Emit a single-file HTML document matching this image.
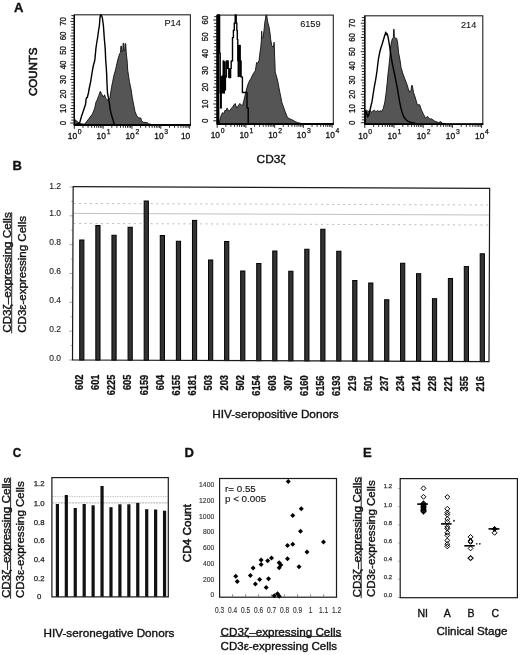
<!DOCTYPE html><html><head><meta charset="utf-8"><style>html,body{margin:0;padding:0;background:#fff;overflow:hidden;}svg{display:block;filter:grayscale(1);}text{font-family:"Liberation Sans", sans-serif;}</style></head><body>
<svg width="520" height="655" viewBox="0 0 520 655">
<rect x="0" y="0" width="520" height="655" fill="#fff"/>
<text transform="translate(14.1,12.1)" font-size="13" font-weight="bold" text-anchor="start" fill="#111" stroke="#111" stroke-width="0.35">A</text>
<text transform="translate(37.4,71.75) rotate(-90)" font-size="11.6" font-weight="normal" text-anchor="middle" fill="#111" stroke="#111" stroke-width="0.6" textLength="48.6" lengthAdjust="spacingAndGlyphs">COUNTS</text>
<text transform="translate(256.6,162.5)" font-size="10.3" font-weight="normal" text-anchor="start" fill="#111" stroke="#111" stroke-width="0.35" textLength="29.0" lengthAdjust="spacingAndGlyphs">CD3ζ</text>
<rect x="74.3" y="14.8" width="116.10000000000001" height="110.2" fill="none" stroke="#222" stroke-width="1.1"/>
<path d="M74.60,125.00 L75.30,119.80 L76.50,120.80 L78.00,122.30 L80.00,123.60 L84.50,124.20 L85.50,123.00 L89.00,118.50 L92.50,113.80 L94.80,108.00 L95.90,102.30 L97.10,100.00 L98.80,95.40 L100.30,91.30 L101.70,94.20 L103.40,97.10 L104.60,94.80 L105.70,98.30 L107.50,100.00 L108.60,98.80 L109.80,98.80 L111.50,87.30 L112.70,81.50 L113.80,75.80 L115.50,70.00 L117.80,59.60 L119.70,53.50 L120.50,52.50 L120.90,46.10 L121.40,46.10 L121.80,52.00 L122.80,51.00 L123.10,43.30 L123.70,43.30 L124.10,51.00 L124.90,50.00 L125.20,43.60 L125.70,43.60 L126.20,52.00 L126.60,56.00 L127.10,60.20 L127.70,70.00 L129.40,81.50 L131.20,90.00 L132.30,97.70 L133.80,105.40 L135.00,111.50 L136.90,116.20 L138.80,117.70 L140.30,118.20 L140.80,117.80 L141.50,120.80 L143.50,122.30 L147.30,122.70 L148.50,123.80 L152.00,124.60 L156.00,125.00 Z" fill="#555" stroke="#111" stroke-width="0.9" stroke-linejoin="round"/>
<path d="M76.50,123.80 L78.50,123.60 L79.80,122.40 L80.60,119.50 L81.50,116.20 L83.00,112.00 L84.50,107.50 L85.50,104.60 L86.10,99.00 L86.60,97.70 L87.30,97.50 L88.40,93.00 L89.50,87.00 L90.70,81.50 L91.60,75.50 L92.50,70.00 L93.50,65.00 L94.80,60.20 L95.90,48.60 L96.70,43.00 L97.70,37.00 L98.50,31.00 L99.40,25.50 L100.00,17.50 L100.60,14.80 L101.50,15.50 L102.30,17.50 L103.40,25.50 L104.20,37.00 L105.20,48.60 L105.70,60.20 L106.30,68.00 L106.70,75.00 L106.90,81.50 L107.50,93.00 L108.60,98.80 L109.50,104.00 L110.30,110.40 L111.80,116.00 L113.20,120.80 L114.40,124.50" fill="none" stroke="#000" stroke-width="1.4" stroke-linejoin="round"/>
<line x1="73.8" y1="125.0" x2="190.9" y2="125.0" stroke="#000" stroke-width="1.8"/>
<line x1="74.3" y1="14.8" x2="74.3" y2="125.0" stroke="#000" stroke-width="1.3"/>
<line x1="70.3" y1="123.00" x2="74.3" y2="123.00" stroke="#111" stroke-width="0.9"/>
<line x1="71.3" y1="120.10" x2="74.3" y2="120.10" stroke="#111" stroke-width="0.9"/>
<line x1="71.3" y1="117.20" x2="74.3" y2="117.20" stroke="#111" stroke-width="0.9"/>
<line x1="71.3" y1="114.29" x2="74.3" y2="114.29" stroke="#111" stroke-width="0.9"/>
<line x1="71.3" y1="111.39" x2="74.3" y2="111.39" stroke="#111" stroke-width="0.9"/>
<line x1="70.3" y1="108.49" x2="74.3" y2="108.49" stroke="#111" stroke-width="0.9"/>
<line x1="71.3" y1="105.59" x2="74.3" y2="105.59" stroke="#111" stroke-width="0.9"/>
<line x1="71.3" y1="102.69" x2="74.3" y2="102.69" stroke="#111" stroke-width="0.9"/>
<line x1="71.3" y1="99.78" x2="74.3" y2="99.78" stroke="#111" stroke-width="0.9"/>
<line x1="71.3" y1="96.88" x2="74.3" y2="96.88" stroke="#111" stroke-width="0.9"/>
<line x1="70.3" y1="93.98" x2="74.3" y2="93.98" stroke="#111" stroke-width="0.9"/>
<line x1="71.3" y1="91.08" x2="74.3" y2="91.08" stroke="#111" stroke-width="0.9"/>
<line x1="71.3" y1="88.18" x2="74.3" y2="88.18" stroke="#111" stroke-width="0.9"/>
<line x1="71.3" y1="85.27" x2="74.3" y2="85.27" stroke="#111" stroke-width="0.9"/>
<line x1="71.3" y1="82.37" x2="74.3" y2="82.37" stroke="#111" stroke-width="0.9"/>
<line x1="70.3" y1="79.47" x2="74.3" y2="79.47" stroke="#111" stroke-width="0.9"/>
<line x1="71.3" y1="76.57" x2="74.3" y2="76.57" stroke="#111" stroke-width="0.9"/>
<line x1="71.3" y1="73.67" x2="74.3" y2="73.67" stroke="#111" stroke-width="0.9"/>
<line x1="71.3" y1="70.76" x2="74.3" y2="70.76" stroke="#111" stroke-width="0.9"/>
<line x1="71.3" y1="67.86" x2="74.3" y2="67.86" stroke="#111" stroke-width="0.9"/>
<line x1="70.3" y1="64.96" x2="74.3" y2="64.96" stroke="#111" stroke-width="0.9"/>
<line x1="71.3" y1="62.06" x2="74.3" y2="62.06" stroke="#111" stroke-width="0.9"/>
<line x1="71.3" y1="59.16" x2="74.3" y2="59.16" stroke="#111" stroke-width="0.9"/>
<line x1="71.3" y1="56.25" x2="74.3" y2="56.25" stroke="#111" stroke-width="0.9"/>
<line x1="71.3" y1="53.35" x2="74.3" y2="53.35" stroke="#111" stroke-width="0.9"/>
<line x1="70.3" y1="50.45" x2="74.3" y2="50.45" stroke="#111" stroke-width="0.9"/>
<line x1="71.3" y1="47.55" x2="74.3" y2="47.55" stroke="#111" stroke-width="0.9"/>
<line x1="71.3" y1="44.65" x2="74.3" y2="44.65" stroke="#111" stroke-width="0.9"/>
<line x1="71.3" y1="41.74" x2="74.3" y2="41.74" stroke="#111" stroke-width="0.9"/>
<line x1="71.3" y1="38.84" x2="74.3" y2="38.84" stroke="#111" stroke-width="0.9"/>
<line x1="70.3" y1="35.94" x2="74.3" y2="35.94" stroke="#111" stroke-width="0.9"/>
<line x1="71.3" y1="33.04" x2="74.3" y2="33.04" stroke="#111" stroke-width="0.9"/>
<line x1="71.3" y1="30.14" x2="74.3" y2="30.14" stroke="#111" stroke-width="0.9"/>
<line x1="71.3" y1="27.23" x2="74.3" y2="27.23" stroke="#111" stroke-width="0.9"/>
<line x1="71.3" y1="24.33" x2="74.3" y2="24.33" stroke="#111" stroke-width="0.9"/>
<line x1="70.3" y1="21.43" x2="74.3" y2="21.43" stroke="#111" stroke-width="0.9"/>
<line x1="71.3" y1="18.53" x2="74.3" y2="18.53" stroke="#111" stroke-width="0.9"/>
<line x1="71.3" y1="15.63" x2="74.3" y2="15.63" stroke="#111" stroke-width="0.9"/>
<text transform="translate(65.8,123.0) rotate(-90) scale(0.9,1)" font-size="8.8" font-weight="normal" text-anchor="middle" fill="#111" stroke="#111" stroke-width="0.3">0</text>
<text transform="translate(65.8,108.49) rotate(-90) scale(0.9,1)" font-size="8.8" font-weight="normal" text-anchor="middle" fill="#111" stroke="#111" stroke-width="0.3">10</text>
<text transform="translate(65.8,93.98) rotate(-90) scale(0.9,1)" font-size="8.8" font-weight="normal" text-anchor="middle" fill="#111" stroke="#111" stroke-width="0.3">20</text>
<text transform="translate(65.8,79.47) rotate(-90) scale(0.9,1)" font-size="8.8" font-weight="normal" text-anchor="middle" fill="#111" stroke="#111" stroke-width="0.3">30</text>
<text transform="translate(65.8,64.96000000000001) rotate(-90) scale(0.9,1)" font-size="8.8" font-weight="normal" text-anchor="middle" fill="#111" stroke="#111" stroke-width="0.3">40</text>
<text transform="translate(65.8,50.45) rotate(-90) scale(0.9,1)" font-size="8.8" font-weight="normal" text-anchor="middle" fill="#111" stroke="#111" stroke-width="0.3">50</text>
<text transform="translate(65.8,35.94) rotate(-90) scale(0.9,1)" font-size="8.8" font-weight="normal" text-anchor="middle" fill="#111" stroke="#111" stroke-width="0.3">60</text>
<text transform="translate(65.8,21.430000000000007) rotate(-90) scale(0.9,1)" font-size="8.8" font-weight="normal" text-anchor="middle" fill="#111" stroke="#111" stroke-width="0.3">70</text>
<line x1="74.30" y1="125.0" x2="74.30" y2="128.8" stroke="#111" stroke-width="0.9"/>
<line x1="82.98" y1="125.0" x2="82.98" y2="127.8" stroke="#111" stroke-width="0.9"/>
<line x1="88.06" y1="125.0" x2="88.06" y2="127.8" stroke="#111" stroke-width="0.9"/>
<line x1="91.66" y1="125.0" x2="91.66" y2="127.8" stroke="#111" stroke-width="0.9"/>
<line x1="94.45" y1="125.0" x2="94.45" y2="127.8" stroke="#111" stroke-width="0.9"/>
<line x1="96.73" y1="125.0" x2="96.73" y2="127.8" stroke="#111" stroke-width="0.9"/>
<line x1="98.66" y1="125.0" x2="98.66" y2="127.8" stroke="#111" stroke-width="0.9"/>
<line x1="100.34" y1="125.0" x2="100.34" y2="127.8" stroke="#111" stroke-width="0.9"/>
<line x1="101.81" y1="125.0" x2="101.81" y2="127.8" stroke="#111" stroke-width="0.9"/>
<line x1="103.13" y1="125.0" x2="103.13" y2="128.8" stroke="#111" stroke-width="0.9"/>
<line x1="111.81" y1="125.0" x2="111.81" y2="127.8" stroke="#111" stroke-width="0.9"/>
<line x1="116.89" y1="125.0" x2="116.89" y2="127.8" stroke="#111" stroke-width="0.9"/>
<line x1="120.49" y1="125.0" x2="120.49" y2="127.8" stroke="#111" stroke-width="0.9"/>
<line x1="123.28" y1="125.0" x2="123.28" y2="127.8" stroke="#111" stroke-width="0.9"/>
<line x1="125.56" y1="125.0" x2="125.56" y2="127.8" stroke="#111" stroke-width="0.9"/>
<line x1="127.49" y1="125.0" x2="127.49" y2="127.8" stroke="#111" stroke-width="0.9"/>
<line x1="129.17" y1="125.0" x2="129.17" y2="127.8" stroke="#111" stroke-width="0.9"/>
<line x1="130.64" y1="125.0" x2="130.64" y2="127.8" stroke="#111" stroke-width="0.9"/>
<line x1="131.96" y1="125.0" x2="131.96" y2="128.8" stroke="#111" stroke-width="0.9"/>
<line x1="140.64" y1="125.0" x2="140.64" y2="127.8" stroke="#111" stroke-width="0.9"/>
<line x1="145.72" y1="125.0" x2="145.72" y2="127.8" stroke="#111" stroke-width="0.9"/>
<line x1="149.32" y1="125.0" x2="149.32" y2="127.8" stroke="#111" stroke-width="0.9"/>
<line x1="152.11" y1="125.0" x2="152.11" y2="127.8" stroke="#111" stroke-width="0.9"/>
<line x1="154.39" y1="125.0" x2="154.39" y2="127.8" stroke="#111" stroke-width="0.9"/>
<line x1="156.32" y1="125.0" x2="156.32" y2="127.8" stroke="#111" stroke-width="0.9"/>
<line x1="158.00" y1="125.0" x2="158.00" y2="127.8" stroke="#111" stroke-width="0.9"/>
<line x1="159.47" y1="125.0" x2="159.47" y2="127.8" stroke="#111" stroke-width="0.9"/>
<line x1="160.79" y1="125.0" x2="160.79" y2="128.8" stroke="#111" stroke-width="0.9"/>
<line x1="169.47" y1="125.0" x2="169.47" y2="127.8" stroke="#111" stroke-width="0.9"/>
<line x1="174.55" y1="125.0" x2="174.55" y2="127.8" stroke="#111" stroke-width="0.9"/>
<line x1="178.15" y1="125.0" x2="178.15" y2="127.8" stroke="#111" stroke-width="0.9"/>
<line x1="180.94" y1="125.0" x2="180.94" y2="127.8" stroke="#111" stroke-width="0.9"/>
<line x1="183.22" y1="125.0" x2="183.22" y2="127.8" stroke="#111" stroke-width="0.9"/>
<line x1="185.15" y1="125.0" x2="185.15" y2="127.8" stroke="#111" stroke-width="0.9"/>
<line x1="186.83" y1="125.0" x2="186.83" y2="127.8" stroke="#111" stroke-width="0.9"/>
<line x1="188.30" y1="125.0" x2="188.30" y2="127.8" stroke="#111" stroke-width="0.9"/>
<line x1="189.62" y1="125.0" x2="189.62" y2="128.8" stroke="#111" stroke-width="0.9"/>
<text transform="translate(77.1,138.8)" font-size="8.4" font-weight="normal" text-anchor="end" fill="#111" stroke="#111" stroke-width="0.3">10</text>
<text transform="translate(77.8,133.60000000000002)" font-size="6.8" font-weight="normal" text-anchor="start" fill="#111" stroke="#111" stroke-width="0.25">0</text>
<text transform="translate(105.92999999999999,138.8)" font-size="8.4" font-weight="normal" text-anchor="end" fill="#111" stroke="#111" stroke-width="0.3">10</text>
<text transform="translate(106.63,133.60000000000002)" font-size="6.8" font-weight="normal" text-anchor="start" fill="#111" stroke="#111" stroke-width="0.25">1</text>
<text transform="translate(134.76,138.8)" font-size="8.4" font-weight="normal" text-anchor="end" fill="#111" stroke="#111" stroke-width="0.3">10</text>
<text transform="translate(135.45999999999998,133.60000000000002)" font-size="6.8" font-weight="normal" text-anchor="start" fill="#111" stroke="#111" stroke-width="0.25">2</text>
<text transform="translate(163.59,138.8)" font-size="8.4" font-weight="normal" text-anchor="end" fill="#111" stroke="#111" stroke-width="0.3">10</text>
<text transform="translate(164.29,133.60000000000002)" font-size="6.8" font-weight="normal" text-anchor="start" fill="#111" stroke="#111" stroke-width="0.25">3</text>
<text transform="translate(190.22,138.8)" font-size="8.4" font-weight="normal" text-anchor="end" fill="#111" stroke="#111" stroke-width="0.3">10</text>
<text transform="translate(180.8,26.3)" font-size="9.2" font-weight="normal" text-anchor="end" fill="#111" stroke="#111" stroke-width="0.1">P14</text>
<rect x="217.2" y="15.1" width="116.10000000000002" height="108.9" fill="none" stroke="#222" stroke-width="1.1"/>
<path d="M218.50,124.00 L219.70,121.00 L221.00,116.00 L222.40,112.70 L223.80,113.50 L225.20,110.00 L226.00,111.00 L227.00,108.10 L228.30,110.50 L229.70,110.90 L231.00,108.50 L232.50,107.20 L233.80,105.00 L235.20,103.50 L236.00,106.00 L237.00,108.10 L238.40,105.50 L239.80,103.50 L241.20,105.00 L242.60,105.40 L244.00,100.00 L245.30,94.40 L246.60,89.00 L248.00,84.30 L249.40,81.00 L250.80,78.80 L252.10,76.00 L253.50,73.30 L255.40,70.60 L256.50,63.00 L256.70,62.40 L257.60,63.30 L259.00,60.50 L259.90,53.20 L260.80,46.80 L261.40,40.00 L261.70,31.20 L262.10,38.00 L263.10,37.60 L264.00,30.30 L264.90,22.00 L265.60,18.00 L265.90,15.20 L266.80,15.20 L267.10,18.00 L267.70,22.00 L269.00,26.70 L270.00,33.00 L270.70,39.50 L271.80,45.90 L273.50,47.00 L274.10,42.20 L274.40,48.00 L274.60,56.00 L275.00,65.00 L275.20,72.00 L277.50,80.00 L279.40,90.00 L281.90,102.50 L285.00,111.25 L287.50,117.50 L290.00,119.00 L292.50,120.00 L295.00,121.50 L297.50,122.50 L300.00,123.20 L305.00,124.00 Z" fill="#555" stroke="#111" stroke-width="0.9" stroke-linejoin="round"/>
<path d="M217.60,124.00 L217.60,15.00 L219.60,15.00 L219.60,53.00 L220.20,53.00 L220.20,93.00 L220.70,93.00 L220.70,108.00 L221.20,108.00 L221.20,77.00 L221.70,77.00 L221.70,93.00 L222.20,93.00 L222.20,76.00 L222.70,76.00 L222.70,92.00 L223.20,92.00 L223.20,61.00 L223.75,61.00 L223.75,93.00 L224.30,93.00 L224.30,62.00 L224.85,62.00 L224.85,90.00 L225.40,90.00 L225.40,77.00 L226.40,77.00 L226.40,61.00 L227.00,61.00 L227.00,68.40 L227.60,68.40 L227.60,61.00 L228.20,61.00 L228.20,68.40 L228.80,68.40 L228.80,77.50 L229.40,77.50 L229.40,69.00 L230.00,69.00 L230.00,77.50 L230.60,77.50 L230.60,68.40 L231.20,68.40 L231.20,61.00 L232.50,61.00 L232.50,37.60 L233.40,37.60 L233.40,30.30 L234.30,30.30 L234.30,23.00 L235.20,23.00 L235.20,15.00 L236.20,15.00 L236.20,23.00 L236.80,23.00 L236.80,30.30 L237.30,30.30 L237.30,39.50 L237.80,39.50 L237.80,61.00 L238.27,61.00 L238.27,76.60 L238.73,76.60 L238.73,61.00 L239.20,61.00 L239.20,45.50 L240.20,45.50 L240.20,76.60 L240.63,76.60 L240.63,61.00 L241.07,61.00 L241.07,76.60 L241.50,76.60 L241.50,77.00 L242.40,77.00 L242.40,92.50 L247.00,92.50 L247.00,108.00 L248.20,108.00 L248.20,124.00 L249.00,124.00" fill="none" stroke="#000" stroke-width="1.4" stroke-linejoin="round"/>
<line x1="216.7" y1="124.0" x2="333.8" y2="124.0" stroke="#000" stroke-width="1.8"/>
<line x1="217.2" y1="15.1" x2="217.2" y2="124.0" stroke="#000" stroke-width="1.3"/>
<line x1="213.2" y1="120.80" x2="217.2" y2="120.80" stroke="#111" stroke-width="0.9"/>
<line x1="214.2" y1="117.44" x2="217.2" y2="117.44" stroke="#111" stroke-width="0.9"/>
<line x1="214.2" y1="114.08" x2="217.2" y2="114.08" stroke="#111" stroke-width="0.9"/>
<line x1="214.2" y1="110.72" x2="217.2" y2="110.72" stroke="#111" stroke-width="0.9"/>
<line x1="214.2" y1="107.36" x2="217.2" y2="107.36" stroke="#111" stroke-width="0.9"/>
<line x1="213.2" y1="104.00" x2="217.2" y2="104.00" stroke="#111" stroke-width="0.9"/>
<line x1="214.2" y1="100.64" x2="217.2" y2="100.64" stroke="#111" stroke-width="0.9"/>
<line x1="214.2" y1="97.28" x2="217.2" y2="97.28" stroke="#111" stroke-width="0.9"/>
<line x1="214.2" y1="93.92" x2="217.2" y2="93.92" stroke="#111" stroke-width="0.9"/>
<line x1="214.2" y1="90.56" x2="217.2" y2="90.56" stroke="#111" stroke-width="0.9"/>
<line x1="213.2" y1="87.20" x2="217.2" y2="87.20" stroke="#111" stroke-width="0.9"/>
<line x1="214.2" y1="83.84" x2="217.2" y2="83.84" stroke="#111" stroke-width="0.9"/>
<line x1="214.2" y1="80.48" x2="217.2" y2="80.48" stroke="#111" stroke-width="0.9"/>
<line x1="214.2" y1="77.12" x2="217.2" y2="77.12" stroke="#111" stroke-width="0.9"/>
<line x1="214.2" y1="73.76" x2="217.2" y2="73.76" stroke="#111" stroke-width="0.9"/>
<line x1="213.2" y1="70.40" x2="217.2" y2="70.40" stroke="#111" stroke-width="0.9"/>
<line x1="214.2" y1="67.04" x2="217.2" y2="67.04" stroke="#111" stroke-width="0.9"/>
<line x1="214.2" y1="63.68" x2="217.2" y2="63.68" stroke="#111" stroke-width="0.9"/>
<line x1="214.2" y1="60.32" x2="217.2" y2="60.32" stroke="#111" stroke-width="0.9"/>
<line x1="214.2" y1="56.96" x2="217.2" y2="56.96" stroke="#111" stroke-width="0.9"/>
<line x1="213.2" y1="53.60" x2="217.2" y2="53.60" stroke="#111" stroke-width="0.9"/>
<line x1="214.2" y1="50.24" x2="217.2" y2="50.24" stroke="#111" stroke-width="0.9"/>
<line x1="214.2" y1="46.88" x2="217.2" y2="46.88" stroke="#111" stroke-width="0.9"/>
<line x1="214.2" y1="43.52" x2="217.2" y2="43.52" stroke="#111" stroke-width="0.9"/>
<line x1="214.2" y1="40.16" x2="217.2" y2="40.16" stroke="#111" stroke-width="0.9"/>
<line x1="213.2" y1="36.80" x2="217.2" y2="36.80" stroke="#111" stroke-width="0.9"/>
<line x1="214.2" y1="33.44" x2="217.2" y2="33.44" stroke="#111" stroke-width="0.9"/>
<line x1="214.2" y1="30.08" x2="217.2" y2="30.08" stroke="#111" stroke-width="0.9"/>
<line x1="214.2" y1="26.72" x2="217.2" y2="26.72" stroke="#111" stroke-width="0.9"/>
<line x1="214.2" y1="23.36" x2="217.2" y2="23.36" stroke="#111" stroke-width="0.9"/>
<line x1="213.2" y1="20.00" x2="217.2" y2="20.00" stroke="#111" stroke-width="0.9"/>
<line x1="214.2" y1="16.64" x2="217.2" y2="16.64" stroke="#111" stroke-width="0.9"/>
<text transform="translate(208.10000000000002,120.8) rotate(-90) scale(0.9,1)" font-size="8.8" font-weight="normal" text-anchor="middle" fill="#111" stroke="#111" stroke-width="0.3">0</text>
<text transform="translate(208.10000000000002,104.0) rotate(-90) scale(0.9,1)" font-size="8.8" font-weight="normal" text-anchor="middle" fill="#111" stroke="#111" stroke-width="0.3">10</text>
<text transform="translate(208.10000000000002,87.19999999999999) rotate(-90) scale(0.9,1)" font-size="8.8" font-weight="normal" text-anchor="middle" fill="#111" stroke="#111" stroke-width="0.3">20</text>
<text transform="translate(208.10000000000002,70.39999999999999) rotate(-90) scale(0.9,1)" font-size="8.8" font-weight="normal" text-anchor="middle" fill="#111" stroke="#111" stroke-width="0.3">30</text>
<text transform="translate(208.10000000000002,53.599999999999994) rotate(-90) scale(0.9,1)" font-size="8.8" font-weight="normal" text-anchor="middle" fill="#111" stroke="#111" stroke-width="0.3">40</text>
<text transform="translate(208.10000000000002,36.8) rotate(-90) scale(0.9,1)" font-size="8.8" font-weight="normal" text-anchor="middle" fill="#111" stroke="#111" stroke-width="0.3">50</text>
<text transform="translate(208.10000000000002,19.999999999999986) rotate(-90) scale(0.9,1)" font-size="8.8" font-weight="normal" text-anchor="middle" fill="#111" stroke="#111" stroke-width="0.3">60</text>
<line x1="217.20" y1="124.0" x2="217.20" y2="127.8" stroke="#111" stroke-width="0.9"/>
<line x1="225.85" y1="124.0" x2="225.85" y2="126.8" stroke="#111" stroke-width="0.9"/>
<line x1="230.91" y1="124.0" x2="230.91" y2="126.8" stroke="#111" stroke-width="0.9"/>
<line x1="234.50" y1="124.0" x2="234.50" y2="126.8" stroke="#111" stroke-width="0.9"/>
<line x1="237.28" y1="124.0" x2="237.28" y2="126.8" stroke="#111" stroke-width="0.9"/>
<line x1="239.56" y1="124.0" x2="239.56" y2="126.8" stroke="#111" stroke-width="0.9"/>
<line x1="241.48" y1="124.0" x2="241.48" y2="126.8" stroke="#111" stroke-width="0.9"/>
<line x1="243.15" y1="124.0" x2="243.15" y2="126.8" stroke="#111" stroke-width="0.9"/>
<line x1="244.62" y1="124.0" x2="244.62" y2="126.8" stroke="#111" stroke-width="0.9"/>
<line x1="245.93" y1="124.0" x2="245.93" y2="127.8" stroke="#111" stroke-width="0.9"/>
<line x1="254.58" y1="124.0" x2="254.58" y2="126.8" stroke="#111" stroke-width="0.9"/>
<line x1="259.64" y1="124.0" x2="259.64" y2="126.8" stroke="#111" stroke-width="0.9"/>
<line x1="263.23" y1="124.0" x2="263.23" y2="126.8" stroke="#111" stroke-width="0.9"/>
<line x1="266.01" y1="124.0" x2="266.01" y2="126.8" stroke="#111" stroke-width="0.9"/>
<line x1="268.29" y1="124.0" x2="268.29" y2="126.8" stroke="#111" stroke-width="0.9"/>
<line x1="270.21" y1="124.0" x2="270.21" y2="126.8" stroke="#111" stroke-width="0.9"/>
<line x1="271.88" y1="124.0" x2="271.88" y2="126.8" stroke="#111" stroke-width="0.9"/>
<line x1="273.35" y1="124.0" x2="273.35" y2="126.8" stroke="#111" stroke-width="0.9"/>
<line x1="274.66" y1="124.0" x2="274.66" y2="127.8" stroke="#111" stroke-width="0.9"/>
<line x1="283.31" y1="124.0" x2="283.31" y2="126.8" stroke="#111" stroke-width="0.9"/>
<line x1="288.37" y1="124.0" x2="288.37" y2="126.8" stroke="#111" stroke-width="0.9"/>
<line x1="291.96" y1="124.0" x2="291.96" y2="126.8" stroke="#111" stroke-width="0.9"/>
<line x1="294.74" y1="124.0" x2="294.74" y2="126.8" stroke="#111" stroke-width="0.9"/>
<line x1="297.02" y1="124.0" x2="297.02" y2="126.8" stroke="#111" stroke-width="0.9"/>
<line x1="298.94" y1="124.0" x2="298.94" y2="126.8" stroke="#111" stroke-width="0.9"/>
<line x1="300.61" y1="124.0" x2="300.61" y2="126.8" stroke="#111" stroke-width="0.9"/>
<line x1="302.08" y1="124.0" x2="302.08" y2="126.8" stroke="#111" stroke-width="0.9"/>
<line x1="303.39" y1="124.0" x2="303.39" y2="127.8" stroke="#111" stroke-width="0.9"/>
<line x1="312.04" y1="124.0" x2="312.04" y2="126.8" stroke="#111" stroke-width="0.9"/>
<line x1="317.10" y1="124.0" x2="317.10" y2="126.8" stroke="#111" stroke-width="0.9"/>
<line x1="320.69" y1="124.0" x2="320.69" y2="126.8" stroke="#111" stroke-width="0.9"/>
<line x1="323.47" y1="124.0" x2="323.47" y2="126.8" stroke="#111" stroke-width="0.9"/>
<line x1="325.75" y1="124.0" x2="325.75" y2="126.8" stroke="#111" stroke-width="0.9"/>
<line x1="327.67" y1="124.0" x2="327.67" y2="126.8" stroke="#111" stroke-width="0.9"/>
<line x1="329.34" y1="124.0" x2="329.34" y2="126.8" stroke="#111" stroke-width="0.9"/>
<line x1="330.81" y1="124.0" x2="330.81" y2="126.8" stroke="#111" stroke-width="0.9"/>
<line x1="332.12" y1="124.0" x2="332.12" y2="127.8" stroke="#111" stroke-width="0.9"/>
<text transform="translate(220.0,138.3)" font-size="8.4" font-weight="normal" text-anchor="end" fill="#111" stroke="#111" stroke-width="0.3">10</text>
<text transform="translate(220.7,133.10000000000002)" font-size="6.8" font-weight="normal" text-anchor="start" fill="#111" stroke="#111" stroke-width="0.25">0</text>
<text transform="translate(248.73,138.3)" font-size="8.4" font-weight="normal" text-anchor="end" fill="#111" stroke="#111" stroke-width="0.3">10</text>
<text transform="translate(249.42999999999998,133.10000000000002)" font-size="6.8" font-weight="normal" text-anchor="start" fill="#111" stroke="#111" stroke-width="0.25">1</text>
<text transform="translate(277.46,138.3)" font-size="8.4" font-weight="normal" text-anchor="end" fill="#111" stroke="#111" stroke-width="0.3">10</text>
<text transform="translate(278.15999999999997,133.10000000000002)" font-size="6.8" font-weight="normal" text-anchor="start" fill="#111" stroke="#111" stroke-width="0.25">2</text>
<text transform="translate(306.19,138.3)" font-size="8.4" font-weight="normal" text-anchor="end" fill="#111" stroke="#111" stroke-width="0.3">10</text>
<text transform="translate(306.89,133.10000000000002)" font-size="6.8" font-weight="normal" text-anchor="start" fill="#111" stroke="#111" stroke-width="0.25">3</text>
<text transform="translate(334.92,138.3)" font-size="8.4" font-weight="normal" text-anchor="end" fill="#111" stroke="#111" stroke-width="0.3">10</text>
<text transform="translate(335.62,133.10000000000002)" font-size="6.8" font-weight="normal" text-anchor="start" fill="#111" stroke="#111" stroke-width="0.25">4</text>
<text transform="translate(320.6,27.3)" font-size="9.2" font-weight="normal" text-anchor="end" fill="#111" stroke="#111" stroke-width="0.1">6159</text>
<rect x="216.6" y="15" width="2.8" height="109" fill="#000"/>
<rect x="364.8" y="15.8" width="118.0" height="108.3" fill="none" stroke="#222" stroke-width="1.1"/>
<path d="M365.00,124.10 L365.00,111.00 L366.50,110.00 L368.00,111.50 L369.80,110.50 L371.50,112.00 L373.00,111.00 L374.50,110.20 L376.00,111.80 L377.50,110.50 L379.00,111.50 L380.50,110.80 L382.00,111.30 L383.20,108.60 L384.70,102.80 L386.10,93.20 L387.10,83.60 L388.00,74.00 L388.80,67.30 L389.80,57.70 L390.40,48.00 L391.50,42.00 L392.40,38.40 L393.40,37.50 L393.60,29.30 L394.10,29.30 L394.40,37.50 L395.50,38.00 L396.70,38.40 L397.70,43.20 L398.60,52.80 L400.10,60.50 L401.00,67.30 L403.00,74.00 L404.80,78.80 L406.70,83.60 L408.20,88.40 L409.60,92.30 L411.00,90.30 L411.70,85.50 L412.30,85.50 L413.50,92.30 L415.40,98.00 L417.30,104.80 L419.70,104.80 L421.60,110.50 L423.60,114.40 L425.50,118.20 L427.40,116.30 L429.80,119.20 L431.25,118.70 L434.60,121.10 L438.50,122.60 L440.90,121.60 L442.00,123.20 L446.00,124.10 Z" fill="#555" stroke="#111" stroke-width="0.9" stroke-linejoin="round"/>
<path d="M365.30,123.50 L365.30,110.80 L366.60,112.50 L367.60,116.80 L368.60,115.50 L369.20,113.20 L370.60,107.50 L372.00,101.70 L373.10,94.50 L374.20,87.40 L375.60,80.20 L376.40,75.00 L377.10,70.20 L377.80,64.00 L378.50,58.70 L379.90,51.50 L381.00,47.50 L382.10,44.30 L383.20,40.50 L384.20,37.20 L385.20,34.00 L385.70,32.20 L386.40,34.50 L386.90,33.50 L387.80,35.70 L388.60,40.00 L389.30,44.30 L390.00,48.70 L390.70,53.50 L391.40,58.70 L392.80,66.00 L394.30,73.00 L395.80,80.50 L397.20,87.40 L398.40,94.50 L399.60,101.70 L400.70,107.00 L402.00,112.00 L403.60,116.50 L405.80,119.50 L408.00,121.30 L411.00,122.40 L415.40,123.20" fill="none" stroke="#000" stroke-width="1.4" stroke-linejoin="round"/>
<line x1="364.3" y1="124.1" x2="483.3" y2="124.1" stroke="#000" stroke-width="1.8"/>
<line x1="364.8" y1="15.8" x2="364.8" y2="124.1" stroke="#000" stroke-width="1.3"/>
<line x1="360.8" y1="122.70" x2="364.8" y2="122.70" stroke="#111" stroke-width="0.9"/>
<line x1="361.8" y1="119.86" x2="364.8" y2="119.86" stroke="#111" stroke-width="0.9"/>
<line x1="361.8" y1="117.02" x2="364.8" y2="117.02" stroke="#111" stroke-width="0.9"/>
<line x1="361.8" y1="114.17" x2="364.8" y2="114.17" stroke="#111" stroke-width="0.9"/>
<line x1="361.8" y1="111.33" x2="364.8" y2="111.33" stroke="#111" stroke-width="0.9"/>
<line x1="360.8" y1="108.49" x2="364.8" y2="108.49" stroke="#111" stroke-width="0.9"/>
<line x1="361.8" y1="105.65" x2="364.8" y2="105.65" stroke="#111" stroke-width="0.9"/>
<line x1="361.8" y1="102.81" x2="364.8" y2="102.81" stroke="#111" stroke-width="0.9"/>
<line x1="361.8" y1="99.96" x2="364.8" y2="99.96" stroke="#111" stroke-width="0.9"/>
<line x1="361.8" y1="97.12" x2="364.8" y2="97.12" stroke="#111" stroke-width="0.9"/>
<line x1="360.8" y1="94.28" x2="364.8" y2="94.28" stroke="#111" stroke-width="0.9"/>
<line x1="361.8" y1="91.44" x2="364.8" y2="91.44" stroke="#111" stroke-width="0.9"/>
<line x1="361.8" y1="88.60" x2="364.8" y2="88.60" stroke="#111" stroke-width="0.9"/>
<line x1="361.8" y1="85.75" x2="364.8" y2="85.75" stroke="#111" stroke-width="0.9"/>
<line x1="361.8" y1="82.91" x2="364.8" y2="82.91" stroke="#111" stroke-width="0.9"/>
<line x1="360.8" y1="80.07" x2="364.8" y2="80.07" stroke="#111" stroke-width="0.9"/>
<line x1="361.8" y1="77.23" x2="364.8" y2="77.23" stroke="#111" stroke-width="0.9"/>
<line x1="361.8" y1="74.39" x2="364.8" y2="74.39" stroke="#111" stroke-width="0.9"/>
<line x1="361.8" y1="71.54" x2="364.8" y2="71.54" stroke="#111" stroke-width="0.9"/>
<line x1="361.8" y1="68.70" x2="364.8" y2="68.70" stroke="#111" stroke-width="0.9"/>
<line x1="360.8" y1="65.86" x2="364.8" y2="65.86" stroke="#111" stroke-width="0.9"/>
<line x1="361.8" y1="63.02" x2="364.8" y2="63.02" stroke="#111" stroke-width="0.9"/>
<line x1="361.8" y1="60.18" x2="364.8" y2="60.18" stroke="#111" stroke-width="0.9"/>
<line x1="361.8" y1="57.33" x2="364.8" y2="57.33" stroke="#111" stroke-width="0.9"/>
<line x1="361.8" y1="54.49" x2="364.8" y2="54.49" stroke="#111" stroke-width="0.9"/>
<line x1="360.8" y1="51.65" x2="364.8" y2="51.65" stroke="#111" stroke-width="0.9"/>
<line x1="361.8" y1="48.81" x2="364.8" y2="48.81" stroke="#111" stroke-width="0.9"/>
<line x1="361.8" y1="45.97" x2="364.8" y2="45.97" stroke="#111" stroke-width="0.9"/>
<line x1="361.8" y1="43.12" x2="364.8" y2="43.12" stroke="#111" stroke-width="0.9"/>
<line x1="361.8" y1="40.28" x2="364.8" y2="40.28" stroke="#111" stroke-width="0.9"/>
<line x1="360.8" y1="37.44" x2="364.8" y2="37.44" stroke="#111" stroke-width="0.9"/>
<line x1="361.8" y1="34.60" x2="364.8" y2="34.60" stroke="#111" stroke-width="0.9"/>
<line x1="361.8" y1="31.76" x2="364.8" y2="31.76" stroke="#111" stroke-width="0.9"/>
<line x1="361.8" y1="28.91" x2="364.8" y2="28.91" stroke="#111" stroke-width="0.9"/>
<line x1="361.8" y1="26.07" x2="364.8" y2="26.07" stroke="#111" stroke-width="0.9"/>
<line x1="360.8" y1="23.23" x2="364.8" y2="23.23" stroke="#111" stroke-width="0.9"/>
<line x1="361.8" y1="20.39" x2="364.8" y2="20.39" stroke="#111" stroke-width="0.9"/>
<line x1="361.8" y1="17.55" x2="364.8" y2="17.55" stroke="#111" stroke-width="0.9"/>
<text transform="translate(354.8,122.7) rotate(-90) scale(0.9,1)" font-size="8.8" font-weight="normal" text-anchor="middle" fill="#111" stroke="#111" stroke-width="0.3">0</text>
<text transform="translate(354.8,108.49000000000001) rotate(-90) scale(0.9,1)" font-size="8.8" font-weight="normal" text-anchor="middle" fill="#111" stroke="#111" stroke-width="0.3">10</text>
<text transform="translate(354.8,94.28) rotate(-90) scale(0.9,1)" font-size="8.8" font-weight="normal" text-anchor="middle" fill="#111" stroke="#111" stroke-width="0.3">20</text>
<text transform="translate(354.8,80.07) rotate(-90) scale(0.9,1)" font-size="8.8" font-weight="normal" text-anchor="middle" fill="#111" stroke="#111" stroke-width="0.3">30</text>
<text transform="translate(354.8,65.86) rotate(-90) scale(0.9,1)" font-size="8.8" font-weight="normal" text-anchor="middle" fill="#111" stroke="#111" stroke-width="0.3">40</text>
<text transform="translate(354.8,51.64999999999999) rotate(-90) scale(0.9,1)" font-size="8.8" font-weight="normal" text-anchor="middle" fill="#111" stroke="#111" stroke-width="0.3">50</text>
<text transform="translate(354.8,37.44) rotate(-90) scale(0.9,1)" font-size="8.8" font-weight="normal" text-anchor="middle" fill="#111" stroke="#111" stroke-width="0.3">60</text>
<text transform="translate(354.8,23.230000000000004) rotate(-90) scale(0.9,1)" font-size="8.8" font-weight="normal" text-anchor="middle" fill="#111" stroke="#111" stroke-width="0.3">70</text>
<line x1="364.80" y1="124.1" x2="364.80" y2="127.89999999999999" stroke="#111" stroke-width="0.9"/>
<line x1="373.59" y1="124.1" x2="373.59" y2="126.89999999999999" stroke="#111" stroke-width="0.9"/>
<line x1="378.73" y1="124.1" x2="378.73" y2="126.89999999999999" stroke="#111" stroke-width="0.9"/>
<line x1="382.38" y1="124.1" x2="382.38" y2="126.89999999999999" stroke="#111" stroke-width="0.9"/>
<line x1="385.21" y1="124.1" x2="385.21" y2="126.89999999999999" stroke="#111" stroke-width="0.9"/>
<line x1="387.52" y1="124.1" x2="387.52" y2="126.89999999999999" stroke="#111" stroke-width="0.9"/>
<line x1="389.48" y1="124.1" x2="389.48" y2="126.89999999999999" stroke="#111" stroke-width="0.9"/>
<line x1="391.17" y1="124.1" x2="391.17" y2="126.89999999999999" stroke="#111" stroke-width="0.9"/>
<line x1="392.66" y1="124.1" x2="392.66" y2="126.89999999999999" stroke="#111" stroke-width="0.9"/>
<line x1="394.00" y1="124.1" x2="394.00" y2="127.89999999999999" stroke="#111" stroke-width="0.9"/>
<line x1="402.79" y1="124.1" x2="402.79" y2="126.89999999999999" stroke="#111" stroke-width="0.9"/>
<line x1="407.93" y1="124.1" x2="407.93" y2="126.89999999999999" stroke="#111" stroke-width="0.9"/>
<line x1="411.58" y1="124.1" x2="411.58" y2="126.89999999999999" stroke="#111" stroke-width="0.9"/>
<line x1="414.41" y1="124.1" x2="414.41" y2="126.89999999999999" stroke="#111" stroke-width="0.9"/>
<line x1="416.72" y1="124.1" x2="416.72" y2="126.89999999999999" stroke="#111" stroke-width="0.9"/>
<line x1="418.68" y1="124.1" x2="418.68" y2="126.89999999999999" stroke="#111" stroke-width="0.9"/>
<line x1="420.37" y1="124.1" x2="420.37" y2="126.89999999999999" stroke="#111" stroke-width="0.9"/>
<line x1="421.86" y1="124.1" x2="421.86" y2="126.89999999999999" stroke="#111" stroke-width="0.9"/>
<line x1="423.20" y1="124.1" x2="423.20" y2="127.89999999999999" stroke="#111" stroke-width="0.9"/>
<line x1="431.99" y1="124.1" x2="431.99" y2="126.89999999999999" stroke="#111" stroke-width="0.9"/>
<line x1="437.13" y1="124.1" x2="437.13" y2="126.89999999999999" stroke="#111" stroke-width="0.9"/>
<line x1="440.78" y1="124.1" x2="440.78" y2="126.89999999999999" stroke="#111" stroke-width="0.9"/>
<line x1="443.61" y1="124.1" x2="443.61" y2="126.89999999999999" stroke="#111" stroke-width="0.9"/>
<line x1="445.92" y1="124.1" x2="445.92" y2="126.89999999999999" stroke="#111" stroke-width="0.9"/>
<line x1="447.88" y1="124.1" x2="447.88" y2="126.89999999999999" stroke="#111" stroke-width="0.9"/>
<line x1="449.57" y1="124.1" x2="449.57" y2="126.89999999999999" stroke="#111" stroke-width="0.9"/>
<line x1="451.06" y1="124.1" x2="451.06" y2="126.89999999999999" stroke="#111" stroke-width="0.9"/>
<line x1="452.40" y1="124.1" x2="452.40" y2="127.89999999999999" stroke="#111" stroke-width="0.9"/>
<line x1="461.19" y1="124.1" x2="461.19" y2="126.89999999999999" stroke="#111" stroke-width="0.9"/>
<line x1="466.33" y1="124.1" x2="466.33" y2="126.89999999999999" stroke="#111" stroke-width="0.9"/>
<line x1="469.98" y1="124.1" x2="469.98" y2="126.89999999999999" stroke="#111" stroke-width="0.9"/>
<line x1="472.81" y1="124.1" x2="472.81" y2="126.89999999999999" stroke="#111" stroke-width="0.9"/>
<line x1="475.12" y1="124.1" x2="475.12" y2="126.89999999999999" stroke="#111" stroke-width="0.9"/>
<line x1="477.08" y1="124.1" x2="477.08" y2="126.89999999999999" stroke="#111" stroke-width="0.9"/>
<line x1="478.77" y1="124.1" x2="478.77" y2="126.89999999999999" stroke="#111" stroke-width="0.9"/>
<line x1="480.26" y1="124.1" x2="480.26" y2="126.89999999999999" stroke="#111" stroke-width="0.9"/>
<line x1="481.60" y1="124.1" x2="481.60" y2="127.89999999999999" stroke="#111" stroke-width="0.9"/>
<text transform="translate(367.6,139.3)" font-size="8.4" font-weight="normal" text-anchor="end" fill="#111" stroke="#111" stroke-width="0.3">10</text>
<text transform="translate(368.3,134.10000000000002)" font-size="6.8" font-weight="normal" text-anchor="start" fill="#111" stroke="#111" stroke-width="0.25">0</text>
<text transform="translate(396.8,139.3)" font-size="8.4" font-weight="normal" text-anchor="end" fill="#111" stroke="#111" stroke-width="0.3">10</text>
<text transform="translate(397.5,134.10000000000002)" font-size="6.8" font-weight="normal" text-anchor="start" fill="#111" stroke="#111" stroke-width="0.25">1</text>
<text transform="translate(426.0,139.3)" font-size="8.4" font-weight="normal" text-anchor="end" fill="#111" stroke="#111" stroke-width="0.3">10</text>
<text transform="translate(426.7,134.10000000000002)" font-size="6.8" font-weight="normal" text-anchor="start" fill="#111" stroke="#111" stroke-width="0.25">2</text>
<text transform="translate(455.2,139.3)" font-size="8.4" font-weight="normal" text-anchor="end" fill="#111" stroke="#111" stroke-width="0.3">10</text>
<text transform="translate(455.9,134.10000000000002)" font-size="6.8" font-weight="normal" text-anchor="start" fill="#111" stroke="#111" stroke-width="0.25">3</text>
<text transform="translate(484.40000000000003,139.3)" font-size="8.4" font-weight="normal" text-anchor="end" fill="#111" stroke="#111" stroke-width="0.3">10</text>
<text transform="translate(485.1,134.10000000000002)" font-size="6.8" font-weight="normal" text-anchor="start" fill="#111" stroke="#111" stroke-width="0.25">4</text>
<text transform="translate(476.3,28.1)" font-size="9.2" font-weight="normal" text-anchor="end" fill="#111" stroke="#111" stroke-width="0.1">214</text>
<text transform="translate(12.5,170)" font-size="13" font-weight="bold" text-anchor="start" fill="#111" stroke="#111" stroke-width="0.35">B</text>
<text transform="translate(61.1,189.1)" font-size="8.5" font-weight="normal" text-anchor="end" fill="#2a2a2a" stroke="#2a2a2a" stroke-width="0.15">1.2</text>
<text transform="translate(61.1,216.0)" font-size="8.5" font-weight="normal" text-anchor="end" fill="#2a2a2a" stroke="#2a2a2a" stroke-width="0.15">1.0</text>
<text transform="translate(61.1,245.2)" font-size="8.5" font-weight="normal" text-anchor="end" fill="#2a2a2a" stroke="#2a2a2a" stroke-width="0.15">0.8</text>
<text transform="translate(61.1,274.1)" font-size="8.5" font-weight="normal" text-anchor="end" fill="#2a2a2a" stroke="#2a2a2a" stroke-width="0.15">0.6</text>
<text transform="translate(61.1,302.8)" font-size="8.5" font-weight="normal" text-anchor="end" fill="#2a2a2a" stroke="#2a2a2a" stroke-width="0.15">0.4</text>
<text transform="translate(61.1,331.9)" font-size="8.5" font-weight="normal" text-anchor="end" fill="#2a2a2a" stroke="#2a2a2a" stroke-width="0.15">0.2</text>
<text transform="translate(61.1,360.8)" font-size="8.5" font-weight="normal" text-anchor="end" fill="#2a2a2a" stroke="#2a2a2a" stroke-width="0.15">0.0</text>
<g transform="rotate(0.22 72.5 360)">
<line x1="68.9" y1="360.00" x2="72.5" y2="360.00" stroke="#888" stroke-width="0.7"/>
<line x1="70.7" y1="345.58" x2="72.5" y2="345.58" stroke="#888" stroke-width="0.7"/>
<line x1="68.9" y1="331.16" x2="72.5" y2="331.16" stroke="#888" stroke-width="0.7"/>
<line x1="70.7" y1="316.74" x2="72.5" y2="316.74" stroke="#888" stroke-width="0.7"/>
<line x1="68.9" y1="302.32" x2="72.5" y2="302.32" stroke="#888" stroke-width="0.7"/>
<line x1="70.7" y1="287.90" x2="72.5" y2="287.90" stroke="#888" stroke-width="0.7"/>
<line x1="68.9" y1="273.48" x2="72.5" y2="273.48" stroke="#888" stroke-width="0.7"/>
<line x1="70.7" y1="259.06" x2="72.5" y2="259.06" stroke="#888" stroke-width="0.7"/>
<line x1="68.9" y1="244.64" x2="72.5" y2="244.64" stroke="#888" stroke-width="0.7"/>
<line x1="70.7" y1="230.22" x2="72.5" y2="230.22" stroke="#888" stroke-width="0.7"/>
<line x1="68.9" y1="215.80" x2="72.5" y2="215.80" stroke="#888" stroke-width="0.7"/>
<line x1="70.7" y1="201.38" x2="72.5" y2="201.38" stroke="#888" stroke-width="0.7"/>
<line x1="68.9" y1="186.96" x2="72.5" y2="186.96" stroke="#888" stroke-width="0.7"/>
<line x1="73" y1="203.4" x2="489" y2="203.4" stroke="#b4b4b4" stroke-width="0.9" stroke-dasharray="2,3.5"/>
<line x1="73" y1="213.4" x2="489" y2="213.4" stroke="#bbb" stroke-width="0.9"/>
<line x1="73" y1="223.4" x2="489" y2="223.4" stroke="#b4b4b4" stroke-width="0.9" stroke-dasharray="2,3.5"/>
</g>
<rect x="79.70" y="240.00" width="4.2" height="120.04" fill="#333" stroke="#000" stroke-width="1"/>
<text transform="translate(83.10,374.54) rotate(-90) scale(0.87,1)" font-size="10.6" font-weight="bold" text-anchor="end" fill="#111" stroke="#111" stroke-width="0.3">602</text>
<rect x="95.82" y="225.50" width="4.2" height="134.60" fill="#333" stroke="#000" stroke-width="1"/>
<text transform="translate(99.22,374.60) rotate(-90) scale(0.87,1)" font-size="10.6" font-weight="bold" text-anchor="end" fill="#111" stroke="#111" stroke-width="0.3">601</text>
<rect x="111.94" y="235.25" width="4.2" height="124.91" fill="#333" stroke="#000" stroke-width="1"/>
<text transform="translate(115.34,374.67) rotate(-90) scale(0.87,1)" font-size="10.6" font-weight="bold" text-anchor="end" fill="#111" stroke="#111" stroke-width="0.3">6225</text>
<rect x="128.05" y="227.25" width="4.2" height="132.97" fill="#333" stroke="#000" stroke-width="1"/>
<text transform="translate(131.45,374.73) rotate(-90) scale(0.87,1)" font-size="10.6" font-weight="bold" text-anchor="end" fill="#111" stroke="#111" stroke-width="0.3">605</text>
<rect x="144.17" y="201.00" width="4.2" height="159.28" fill="#333" stroke="#000" stroke-width="1"/>
<text transform="translate(147.57,374.80) rotate(-90) scale(0.87,1)" font-size="10.6" font-weight="bold" text-anchor="end" fill="#111" stroke="#111" stroke-width="0.3">6159</text>
<rect x="160.27" y="235.50" width="4.2" height="124.85" fill="#333" stroke="#000" stroke-width="1"/>
<text transform="translate(163.67,374.86) rotate(-90) scale(0.87,1)" font-size="10.6" font-weight="bold" text-anchor="end" fill="#111" stroke="#111" stroke-width="0.3">604</text>
<rect x="176.37" y="241.25" width="4.2" height="119.16" fill="#333" stroke="#000" stroke-width="1"/>
<text transform="translate(179.77,374.92) rotate(-90) scale(0.87,1)" font-size="10.6" font-weight="bold" text-anchor="end" fill="#111" stroke="#111" stroke-width="0.3">6155</text>
<rect x="192.46" y="220.40" width="4.2" height="140.07" fill="#333" stroke="#000" stroke-width="1"/>
<text transform="translate(195.86,374.99) rotate(-90) scale(0.87,1)" font-size="10.6" font-weight="bold" text-anchor="end" fill="#111" stroke="#111" stroke-width="0.3">6181</text>
<rect x="208.54" y="260.00" width="4.2" height="100.53" fill="#333" stroke="#000" stroke-width="1"/>
<text transform="translate(211.94,375.05) rotate(-90) scale(0.87,1)" font-size="10.6" font-weight="bold" text-anchor="end" fill="#111" stroke="#111" stroke-width="0.3">503</text>
<rect x="224.60" y="241.50" width="4.2" height="119.09" fill="#333" stroke="#000" stroke-width="1"/>
<text transform="translate(228.00,375.12) rotate(-90) scale(0.87,1)" font-size="10.6" font-weight="bold" text-anchor="end" fill="#111" stroke="#111" stroke-width="0.3">203</text>
<rect x="240.66" y="271.00" width="4.2" height="89.65" fill="#333" stroke="#000" stroke-width="1"/>
<text transform="translate(244.06,375.18) rotate(-90) scale(0.87,1)" font-size="10.6" font-weight="bold" text-anchor="end" fill="#111" stroke="#111" stroke-width="0.3">502</text>
<rect x="256.71" y="263.50" width="4.2" height="97.22" fill="#333" stroke="#000" stroke-width="1"/>
<text transform="translate(260.11,375.25) rotate(-90) scale(0.87,1)" font-size="10.6" font-weight="bold" text-anchor="end" fill="#111" stroke="#111" stroke-width="0.3">6154</text>
<rect x="272.74" y="251.00" width="4.2" height="109.78" fill="#333" stroke="#000" stroke-width="1"/>
<text transform="translate(276.14,375.31) rotate(-90) scale(0.87,1)" font-size="10.6" font-weight="bold" text-anchor="end" fill="#111" stroke="#111" stroke-width="0.3">603</text>
<rect x="288.76" y="271.25" width="4.2" height="89.59" fill="#333" stroke="#000" stroke-width="1"/>
<text transform="translate(292.16,375.37) rotate(-90) scale(0.87,1)" font-size="10.6" font-weight="bold" text-anchor="end" fill="#111" stroke="#111" stroke-width="0.3">307</text>
<rect x="304.77" y="249.25" width="4.2" height="111.65" fill="#333" stroke="#000" stroke-width="1"/>
<text transform="translate(308.17,375.44) rotate(-90) scale(0.87,1)" font-size="10.6" font-weight="bold" text-anchor="end" fill="#111" stroke="#111" stroke-width="0.3">6160</text>
<rect x="320.76" y="229.25" width="4.2" height="131.71" fill="#333" stroke="#000" stroke-width="1"/>
<text transform="translate(324.16,375.50) rotate(-90) scale(0.87,1)" font-size="10.6" font-weight="bold" text-anchor="end" fill="#111" stroke="#111" stroke-width="0.3">6156</text>
<rect x="336.74" y="251.25" width="4.2" height="109.77" fill="#333" stroke="#000" stroke-width="1"/>
<text transform="translate(340.14,375.57) rotate(-90) scale(0.87,1)" font-size="10.6" font-weight="bold" text-anchor="end" fill="#111" stroke="#111" stroke-width="0.3">6193</text>
<rect x="352.72" y="280.50" width="4.2" height="80.58" fill="#333" stroke="#000" stroke-width="1"/>
<text transform="translate(356.12,375.63) rotate(-90) scale(0.87,1)" font-size="10.6" font-weight="bold" text-anchor="end" fill="#111" stroke="#111" stroke-width="0.3">219</text>
<rect x="368.68" y="283.00" width="4.2" height="78.15" fill="#333" stroke="#000" stroke-width="1"/>
<text transform="translate(372.08,375.69) rotate(-90) scale(0.87,1)" font-size="10.6" font-weight="bold" text-anchor="end" fill="#111" stroke="#111" stroke-width="0.3">501</text>
<rect x="384.63" y="299.75" width="4.2" height="61.46" fill="#333" stroke="#000" stroke-width="1"/>
<text transform="translate(388.03,375.76) rotate(-90) scale(0.87,1)" font-size="10.6" font-weight="bold" text-anchor="end" fill="#111" stroke="#111" stroke-width="0.3">237</text>
<rect x="400.57" y="263.25" width="4.2" height="98.02" fill="#333" stroke="#000" stroke-width="1"/>
<text transform="translate(403.97,375.82) rotate(-90) scale(0.87,1)" font-size="10.6" font-weight="bold" text-anchor="end" fill="#111" stroke="#111" stroke-width="0.3">234</text>
<rect x="416.51" y="273.70" width="4.2" height="87.63" fill="#333" stroke="#000" stroke-width="1"/>
<text transform="translate(419.91,375.88) rotate(-90) scale(0.87,1)" font-size="10.6" font-weight="bold" text-anchor="end" fill="#111" stroke="#111" stroke-width="0.3">214</text>
<rect x="432.43" y="298.70" width="4.2" height="62.69" fill="#333" stroke="#000" stroke-width="1"/>
<text transform="translate(435.83,375.95) rotate(-90) scale(0.87,1)" font-size="10.6" font-weight="bold" text-anchor="end" fill="#111" stroke="#111" stroke-width="0.3">228</text>
<rect x="448.36" y="278.50" width="4.2" height="82.95" fill="#333" stroke="#000" stroke-width="1"/>
<text transform="translate(451.76,376.01) rotate(-90) scale(0.87,1)" font-size="10.6" font-weight="bold" text-anchor="end" fill="#111" stroke="#111" stroke-width="0.3">221</text>
<rect x="464.28" y="266.60" width="4.2" height="94.91" fill="#333" stroke="#000" stroke-width="1"/>
<text transform="translate(467.68,376.08) rotate(-90) scale(0.87,1)" font-size="10.6" font-weight="bold" text-anchor="end" fill="#111" stroke="#111" stroke-width="0.3">355</text>
<rect x="480.20" y="253.80" width="4.2" height="107.77" fill="#333" stroke="#000" stroke-width="1"/>
<text transform="translate(483.60,376.14) rotate(-90) scale(0.87,1)" font-size="10.6" font-weight="bold" text-anchor="end" fill="#111" stroke="#111" stroke-width="0.3">216</text>
<g transform="rotate(0.22 72.5 360)">
<rect x="72.5" y="186.7" width="416.5" height="173.3" fill="none" stroke="#1a1a1a" stroke-width="1.2"/>
</g>
<text transform="translate(212.3,417.5)" font-size="11" font-weight="normal" text-anchor="start" fill="#111" stroke="#111" stroke-width="0.35" textLength="126.4" lengthAdjust="spacingAndGlyphs">HIV-seropositive Donors</text>
<text transform="translate(11.1,332.8) rotate(-90)" font-size="10.4" font-weight="normal" text-anchor="start" fill="#111" stroke="#111" stroke-width="0.35" textLength="120.6" lengthAdjust="spacingAndGlyphs">CD3ζ–expressing Cells</text>
<line x1="11.7" y1="333.5" x2="11.7" y2="212.1" stroke="#111" stroke-width="0.9"/>
<text transform="translate(25.6,332.8) rotate(-90)" font-size="10.4" font-weight="normal" text-anchor="start" fill="#111" stroke="#111" stroke-width="0.35" textLength="116.8" lengthAdjust="spacingAndGlyphs">CD3ε-expressing Cells</text>
<text transform="translate(12.7,456.8) scale(0.9,1)" font-size="13" font-weight="bold" text-anchor="start" fill="#111" stroke="#111" stroke-width="0.35">C</text>
<text transform="translate(39.1,486.0)" font-size="7.8" font-weight="normal" text-anchor="middle" fill="#222" stroke="#222" stroke-width="0.25">1.2</text>
<text transform="translate(39.1,505.90000000000003)" font-size="7.8" font-weight="normal" text-anchor="middle" fill="#222" stroke="#222" stroke-width="0.25">1.0</text>
<text transform="translate(39.1,524.6999999999999)" font-size="7.8" font-weight="normal" text-anchor="middle" fill="#222" stroke="#222" stroke-width="0.25">0.8</text>
<text transform="translate(39.1,542.5)" font-size="7.8" font-weight="normal" text-anchor="middle" fill="#222" stroke="#222" stroke-width="0.25">0.6</text>
<text transform="translate(39.1,562.3)" font-size="7.8" font-weight="normal" text-anchor="middle" fill="#222" stroke="#222" stroke-width="0.25">0.4</text>
<text transform="translate(39.1,581.0)" font-size="7.8" font-weight="normal" text-anchor="middle" fill="#222" stroke="#222" stroke-width="0.25">0.2</text>
<text transform="translate(39.1,598.5)" font-size="7.8" font-weight="normal" text-anchor="middle" fill="#222" stroke="#222" stroke-width="0.25">0</text>
<line x1="52.5" y1="496.6" x2="168" y2="496.6" stroke="#aaa" stroke-width="0.8" stroke-dasharray="1.2,1.2"/>
<line x1="52.5" y1="502.9" x2="168" y2="502.9" stroke="#999" stroke-width="0.8" stroke-dasharray="2,0.8"/>
<rect x="55.80" y="504" width="3.2" height="92.90" fill="#111"/>
<rect x="64.73" y="495" width="3.2" height="101.90" fill="#111"/>
<rect x="73.66" y="508" width="3.2" height="88.90" fill="#111"/>
<rect x="82.59" y="504" width="3.2" height="92.90" fill="#111"/>
<rect x="91.52" y="505.3" width="3.2" height="91.60" fill="#111"/>
<rect x="100.45" y="486" width="3.2" height="110.90" fill="#111"/>
<rect x="109.38" y="507.2" width="3.2" height="89.70" fill="#111"/>
<rect x="118.31" y="504.3" width="3.2" height="92.60" fill="#111"/>
<rect x="127.24" y="504.3" width="3.2" height="92.60" fill="#111"/>
<rect x="136.17" y="502.9" width="3.2" height="94.00" fill="#111"/>
<rect x="145.10" y="509.2" width="3.2" height="87.70" fill="#111"/>
<rect x="154.03" y="509.5" width="3.2" height="87.40" fill="#111"/>
<rect x="162.96" y="510.7" width="3.2" height="86.20" fill="#111"/>
<rect x="51.9" y="477.6" width="116.4" height="119.3" fill="none" stroke="#1a1a1a" stroke-width="1.2"/>
<text transform="translate(43.6,637.0)" font-size="11" font-weight="normal" text-anchor="start" fill="#111" stroke="#111" stroke-width="0.35" textLength="130.8" lengthAdjust="spacingAndGlyphs">HIV-seronegative Donors</text>
<text transform="translate(10.0,598.1) rotate(-90)" font-size="10.4" font-weight="normal" text-anchor="start" fill="#111" stroke="#111" stroke-width="0.35" textLength="120.6" lengthAdjust="spacingAndGlyphs">CD3ζ–expressing Cells</text>
<line x1="10.6" y1="598.8" x2="10.6" y2="477.4" stroke="#111" stroke-width="0.9"/>
<text transform="translate(24.3,598.1) rotate(-90)" font-size="10.4" font-weight="normal" text-anchor="start" fill="#111" stroke="#111" stroke-width="0.35" textLength="116.8" lengthAdjust="spacingAndGlyphs">CD3ε-expressing Cells</text>
<text transform="translate(184.5,456.75)" font-size="13" font-weight="bold" text-anchor="start" fill="#111" stroke="#111" stroke-width="0.35">D</text>
<text transform="translate(214.2,597.25) scale(0.86,1)" font-size="7.9" font-weight="normal" text-anchor="end" fill="#333" stroke="#333" stroke-width="0.15">0</text>
<text transform="translate(214.2,581.52) scale(0.86,1)" font-size="7.9" font-weight="normal" text-anchor="end" fill="#333" stroke="#333" stroke-width="0.15">200</text>
<text transform="translate(214.2,565.79) scale(0.86,1)" font-size="7.9" font-weight="normal" text-anchor="end" fill="#333" stroke="#333" stroke-width="0.15">400</text>
<text transform="translate(214.2,550.06) scale(0.86,1)" font-size="7.9" font-weight="normal" text-anchor="end" fill="#333" stroke="#333" stroke-width="0.15">600</text>
<text transform="translate(214.2,534.33) scale(0.86,1)" font-size="7.9" font-weight="normal" text-anchor="end" fill="#333" stroke="#333" stroke-width="0.15">800</text>
<text transform="translate(214.2,518.6) scale(0.86,1)" font-size="7.9" font-weight="normal" text-anchor="end" fill="#333" stroke="#333" stroke-width="0.15">1000</text>
<text transform="translate(214.2,502.87) scale(0.86,1)" font-size="7.9" font-weight="normal" text-anchor="end" fill="#333" stroke="#333" stroke-width="0.15">1200</text>
<text transform="translate(214.2,487.14) scale(0.86,1)" font-size="7.9" font-weight="normal" text-anchor="end" fill="#333" stroke="#333" stroke-width="0.15">1400</text>
<text transform="translate(219.60,613.3) scale(0.8,1)" font-size="8.2" font-weight="normal" text-anchor="middle" fill="#333" stroke="#333" stroke-width="0.15">0.3</text>
<line x1="219.60" y1="596.5" x2="219.60" y2="594.3" stroke="#555" stroke-width="0.7"/>
<text transform="translate(232.60,613.3) scale(0.8,1)" font-size="8.2" font-weight="normal" text-anchor="middle" fill="#333" stroke="#333" stroke-width="0.15">0.4</text>
<line x1="232.60" y1="596.5" x2="232.60" y2="594.3" stroke="#555" stroke-width="0.7"/>
<text transform="translate(245.60,613.3) scale(0.8,1)" font-size="8.2" font-weight="normal" text-anchor="middle" fill="#333" stroke="#333" stroke-width="0.15">0.5</text>
<line x1="245.60" y1="596.5" x2="245.60" y2="594.3" stroke="#555" stroke-width="0.7"/>
<text transform="translate(258.60,613.3) scale(0.8,1)" font-size="8.2" font-weight="normal" text-anchor="middle" fill="#333" stroke="#333" stroke-width="0.15">0.6</text>
<line x1="258.60" y1="596.5" x2="258.60" y2="594.3" stroke="#555" stroke-width="0.7"/>
<text transform="translate(271.60,613.3) scale(0.8,1)" font-size="8.2" font-weight="normal" text-anchor="middle" fill="#333" stroke="#333" stroke-width="0.15">0.7</text>
<line x1="271.60" y1="596.5" x2="271.60" y2="594.3" stroke="#555" stroke-width="0.7"/>
<text transform="translate(284.60,613.3) scale(0.8,1)" font-size="8.2" font-weight="normal" text-anchor="middle" fill="#333" stroke="#333" stroke-width="0.15">0.8</text>
<line x1="284.60" y1="596.5" x2="284.60" y2="594.3" stroke="#555" stroke-width="0.7"/>
<text transform="translate(297.60,613.3) scale(0.8,1)" font-size="8.2" font-weight="normal" text-anchor="middle" fill="#333" stroke="#333" stroke-width="0.15">0.9</text>
<line x1="297.60" y1="596.5" x2="297.60" y2="594.3" stroke="#555" stroke-width="0.7"/>
<text transform="translate(310.60,613.3) scale(0.8,1)" font-size="8.2" font-weight="normal" text-anchor="middle" fill="#333" stroke="#333" stroke-width="0.15">1</text>
<line x1="310.60" y1="596.5" x2="310.60" y2="594.3" stroke="#555" stroke-width="0.7"/>
<text transform="translate(323.60,613.3) scale(0.8,1)" font-size="8.2" font-weight="normal" text-anchor="middle" fill="#333" stroke="#333" stroke-width="0.15">1.1</text>
<line x1="323.60" y1="596.5" x2="323.60" y2="594.3" stroke="#555" stroke-width="0.7"/>
<text transform="translate(336.60,613.3) scale(0.8,1)" font-size="8.2" font-weight="normal" text-anchor="middle" fill="#333" stroke="#333" stroke-width="0.15">1.2</text>
<line x1="336.60" y1="596.5" x2="336.60" y2="594.3" stroke="#555" stroke-width="0.7"/>
<rect x="219.6" y="478.5" width="116.9" height="118.7" fill="none" stroke="#1a1a1a" stroke-width="1.2"/>
<text transform="translate(225,492.2)" font-size="9.8" font-weight="normal" text-anchor="start" fill="#111" stroke="#111" stroke-width="0.12">r= 0.55</text>
<text transform="translate(225,501.8)" font-size="9.8" font-weight="normal" text-anchor="start" fill="#111" stroke="#111" stroke-width="0.12">p &lt; 0.005</text>
<text transform="translate(190.6,533.3) rotate(-90)" font-size="11" font-weight="normal" text-anchor="middle" fill="#111" stroke="#111" stroke-width="0.55" textLength="57.9" lengthAdjust="spacingAndGlyphs">CD4 Count</text>
<path d="M288.25,479.00 L290.75,481.50 L288.25,484.00 L285.75,481.50 Z" fill="#000"/>
<path d="M301.25,506.25 L303.75,508.75 L301.25,511.25 L298.75,508.75 Z" fill="#000"/>
<path d="M292.75,513.00 L295.25,515.50 L292.75,518.00 L290.25,515.50 Z" fill="#000"/>
<path d="M300.50,528.75 L303.00,531.25 L300.50,533.75 L298.00,531.25 Z" fill="#000"/>
<path d="M323.50,539.50 L326.00,542.00 L323.50,544.50 L321.00,542.00 Z" fill="#000"/>
<path d="M287.50,543.00 L290.00,545.50 L287.50,548.00 L285.00,545.50 Z" fill="#000"/>
<path d="M292.75,541.75 L295.25,544.25 L292.75,546.75 L290.25,544.25 Z" fill="#000"/>
<path d="M307.00,549.50 L309.50,552.00 L307.00,554.50 L304.50,552.00 Z" fill="#000"/>
<path d="M261.15,557.50 L263.65,560.00 L261.15,562.50 L258.65,560.00 Z" fill="#000"/>
<path d="M271.50,555.40 L274.00,557.90 L271.50,560.40 L269.00,557.90 Z" fill="#000"/>
<path d="M267.70,558.30 L270.20,560.80 L267.70,563.30 L265.20,560.80 Z" fill="#000"/>
<path d="M261.15,562.10 L263.65,564.60 L261.15,567.10 L258.65,564.60 Z" fill="#000"/>
<path d="M279.20,560.20 L281.70,562.70 L279.20,565.20 L276.70,562.70 Z" fill="#000"/>
<path d="M280.80,562.50 L283.30,565.00 L280.80,567.50 L278.30,565.00 Z" fill="#000"/>
<path d="M279.20,565.20 L281.70,567.70 L279.20,570.20 L276.70,567.70 Z" fill="#000"/>
<path d="M287.50,556.25 L290.00,558.75 L287.50,561.25 L285.00,558.75 Z" fill="#000"/>
<path d="M299.00,564.25 L301.50,566.75 L299.00,569.25 L296.50,566.75 Z" fill="#000"/>
<path d="M253.10,565.60 L255.60,568.10 L253.10,570.60 L250.60,568.10 Z" fill="#000"/>
<path d="M235.75,573.75 L238.25,576.25 L235.75,578.75 L233.25,576.25 Z" fill="#000"/>
<path d="M250.40,572.90 L252.90,575.40 L250.40,577.90 L247.90,575.40 Z" fill="#000"/>
<path d="M237.25,579.00 L239.75,581.50 L237.25,584.00 L234.75,581.50 Z" fill="#000"/>
<path d="M259.60,577.10 L262.10,579.60 L259.60,582.10 L257.10,579.60 Z" fill="#000"/>
<path d="M268.50,576.30 L271.00,578.80 L268.50,581.30 L266.00,578.80 Z" fill="#000"/>
<path d="M255.40,581.60 L257.90,584.10 L255.40,586.60 L252.90,584.10 Z" fill="#000"/>
<path d="M266.20,585.00 L268.70,587.50 L266.20,590.00 L263.70,587.50 Z" fill="#000"/>
<path d="M274.25,593.25 L276.75,595.75 L274.25,598.25 L271.75,595.75 Z" fill="#000"/>
<path d="M277.50,591.25 L280.00,593.75 L277.50,596.25 L275.00,593.75 Z" fill="#000"/>
<path d="M279.25,593.75 L281.75,596.25 L279.25,598.75 L276.75,596.25 Z" fill="#000"/>
<text transform="translate(220.6,635.8)" font-size="10.4" font-weight="normal" text-anchor="start" fill="#111" stroke="#111" stroke-width="0.35" textLength="120.8" lengthAdjust="spacingAndGlyphs">CD3ζ–expressing Cells</text>
<line x1="220.1" y1="636.4" x2="341.5" y2="636.4" stroke="#111" stroke-width="0.9"/>
<text transform="translate(220.6,650.1)" font-size="10.4" font-weight="normal" text-anchor="start" fill="#111" stroke="#111" stroke-width="0.35" textLength="116.5" lengthAdjust="spacingAndGlyphs">CD3ε-expressing Cells</text>
<text transform="translate(363,457)" font-size="13" font-weight="bold" text-anchor="start" fill="#111" stroke="#111" stroke-width="0.35">E</text>
<text transform="translate(392.2,488.3400000000001)" font-size="6.0" font-weight="normal" text-anchor="end" fill="#333" stroke="#333" stroke-width="0.25">1.2</text>
<line x1="398" y1="488.54" x2="400" y2="488.54" stroke="#888" stroke-width="0.6"/>
<text transform="translate(392.2,506.50000000000006)" font-size="6.0" font-weight="normal" text-anchor="end" fill="#333" stroke="#333" stroke-width="0.25">1.0</text>
<line x1="398" y1="506.70" x2="400" y2="506.70" stroke="#888" stroke-width="0.6"/>
<text transform="translate(392.2,524.6600000000001)" font-size="6.0" font-weight="normal" text-anchor="end" fill="#333" stroke="#333" stroke-width="0.25">0.8</text>
<line x1="398" y1="524.86" x2="400" y2="524.86" stroke="#888" stroke-width="0.6"/>
<text transform="translate(392.2,542.82)" font-size="6.0" font-weight="normal" text-anchor="end" fill="#333" stroke="#333" stroke-width="0.25">0.6</text>
<line x1="398" y1="543.02" x2="400" y2="543.02" stroke="#888" stroke-width="0.6"/>
<text transform="translate(392.2,560.98)" font-size="6.0" font-weight="normal" text-anchor="end" fill="#333" stroke="#333" stroke-width="0.25">0.4</text>
<line x1="398" y1="561.18" x2="400" y2="561.18" stroke="#888" stroke-width="0.6"/>
<text transform="translate(392.2,579.1400000000001)" font-size="6.0" font-weight="normal" text-anchor="end" fill="#333" stroke="#333" stroke-width="0.25">0.2</text>
<line x1="398" y1="579.34" x2="400" y2="579.34" stroke="#888" stroke-width="0.6"/>
<text transform="translate(392.2,597.3000000000001)" font-size="6.0" font-weight="normal" text-anchor="end" fill="#333" stroke="#333" stroke-width="0.25">0.0</text>
<line x1="398" y1="597.50" x2="400" y2="597.50" stroke="#888" stroke-width="0.6"/>
<rect x="400.2" y="478.6" width="117.2" height="119.1" fill="none" stroke="#1a1a1a" stroke-width="1.2"/>
<path d="M423.50,485.85 L425.95,488.30 L423.50,490.75 L421.05,488.30 Z" fill="none" stroke="#000" stroke-width="1.0"/>
<path d="M423.50,494.35 L425.95,496.80 L423.50,499.25 L421.05,496.80 Z" fill="none" stroke="#000" stroke-width="1.0"/>
<path d="M423.50,501.15 L425.95,503.60 L423.50,506.05 L421.05,503.60 Z" fill="none" stroke="#000" stroke-width="1.1"/>
<path d="M423.50,502.55 L425.95,505.00 L423.50,507.45 L421.05,505.00 Z" fill="none" stroke="#000" stroke-width="1.1"/>
<path d="M423.50,503.95 L425.95,506.40 L423.50,508.85 L421.05,506.40 Z" fill="none" stroke="#000" stroke-width="1.1"/>
<path d="M423.50,505.35 L425.95,507.80 L423.50,510.25 L421.05,507.80 Z" fill="none" stroke="#000" stroke-width="1.1"/>
<path d="M423.50,506.75 L425.95,509.20 L423.50,511.65 L421.05,509.20 Z" fill="none" stroke="#000" stroke-width="1.1"/>
<path d="M423.50,508.15 L425.95,510.60 L423.50,513.05 L421.05,510.60 Z" fill="none" stroke="#000" stroke-width="1.1"/>
<path d="M423.50,508.95 L425.95,511.40 L423.50,513.85 L421.05,511.40 Z" fill="none" stroke="#000" stroke-width="1.1"/>
<line x1="417.2" y1="504.1" x2="427.9" y2="504.1" stroke="#000" stroke-width="1.6"/>
<path d="M447.30,494.55 L449.75,497.00 L447.30,499.45 L444.85,497.00 Z" fill="none" stroke="#000" stroke-width="1.0"/>
<path d="M447.30,506.35 L449.75,508.80 L447.30,511.25 L444.85,508.80 Z" fill="none" stroke="#000" stroke-width="1.0"/>
<path d="M447.30,510.15 L449.75,512.60 L447.30,515.05 L444.85,512.60 Z" fill="none" stroke="#000" stroke-width="1.0"/>
<path d="M447.30,512.15 L449.75,514.60 L447.30,517.05 L444.85,514.60 Z" fill="none" stroke="#000" stroke-width="1.0"/>
<path d="M447.30,516.55 L449.75,519.00 L447.30,521.45 L444.85,519.00 Z" fill="none" stroke="#000" stroke-width="1.0"/>
<path d="M447.30,519.35 L449.75,521.80 L447.30,524.25 L444.85,521.80 Z" fill="none" stroke="#000" stroke-width="1.0"/>
<path d="M447.30,524.55 L449.75,527.00 L447.30,529.45 L444.85,527.00 Z" fill="none" stroke="#000" stroke-width="1.0"/>
<path d="M447.30,526.15 L449.75,528.60 L447.30,531.05 L444.85,528.60 Z" fill="none" stroke="#000" stroke-width="1.0"/>
<path d="M447.30,530.35 L449.75,532.80 L447.30,535.25 L444.85,532.80 Z" fill="none" stroke="#000" stroke-width="1.0"/>
<path d="M447.30,532.85 L449.75,535.30 L447.30,537.75 L444.85,535.30 Z" fill="none" stroke="#000" stroke-width="1.0"/>
<path d="M447.30,538.05 L449.75,540.50 L447.30,542.95 L444.85,540.50 Z" fill="none" stroke="#000" stroke-width="1.0"/>
<path d="M447.30,541.75 L449.75,544.20 L447.30,546.65 L444.85,544.20 Z" fill="none" stroke="#000" stroke-width="1.0"/>
<path d="M447.30,543.95 L449.75,546.40 L447.30,548.85 L444.85,546.40 Z" fill="none" stroke="#000" stroke-width="1.0"/>
<line x1="441" y1="523.9" x2="451.6" y2="523.9" stroke="#000" stroke-width="1.6"/>
<circle cx="454" cy="520.8" r="0.95" fill="#222"/>
<path d="M470.55,534.45 L473.00,536.90 L470.55,539.35 L468.10,536.90 Z" fill="none" stroke="#000" stroke-width="1.0"/>
<path d="M470.55,538.45 L473.00,540.90 L470.55,543.35 L468.10,540.90 Z" fill="none" stroke="#000" stroke-width="1.0"/>
<path d="M470.55,539.45 L473.00,541.90 L470.55,544.35 L468.10,541.90 Z" fill="none" stroke="#000" stroke-width="1.0"/>
<path d="M470.55,545.95 L473.00,548.40 L470.55,550.85 L468.10,548.40 Z" fill="none" stroke="#000" stroke-width="1.0"/>
<path d="M470.55,555.35 L473.00,557.80 L470.55,560.25 L468.10,557.80 Z" fill="none" stroke="#000" stroke-width="1.0"/>
<path d="M470.55,555.95 L473.00,558.40 L470.55,560.85 L468.10,558.40 Z" fill="none" stroke="#000" stroke-width="1.0"/>
<line x1="464.3" y1="545.8" x2="474.7" y2="545.8" stroke="#000" stroke-width="1.6"/>
<circle cx="476.7" cy="543.8" r="0.9" fill="#222"/>
<circle cx="479.8" cy="543.8" r="0.9" fill="#222"/>
<path d="M494.60,526.45 L497.05,528.90 L494.60,531.35 L492.15,528.90 Z" fill="#000" stroke="#000" stroke-width="1.0"/>
<path d="M494.60,530.35 L497.05,532.80 L494.60,535.25 L492.15,532.80 Z" fill="none" stroke="#000" stroke-width="1.0"/>
<line x1="488.5" y1="528.9" x2="499.4" y2="528.9" stroke="#000" stroke-width="1.6"/>
<text transform="translate(422.75,617)" font-size="10.5" font-weight="normal" text-anchor="middle" fill="#111" stroke="#111" stroke-width="0.35">NI</text>
<text transform="translate(447.25,617)" font-size="10.5" font-weight="normal" text-anchor="middle" fill="#111" stroke="#111" stroke-width="0.35">A</text>
<text transform="translate(471,617)" font-size="10.5" font-weight="normal" text-anchor="middle" fill="#111" stroke="#111" stroke-width="0.35">B</text>
<text transform="translate(495.25,617)" font-size="10.5" font-weight="normal" text-anchor="middle" fill="#111" stroke="#111" stroke-width="0.35">C</text>
<text transform="translate(436.5,635.2)" font-size="11" font-weight="normal" text-anchor="start" fill="#111" stroke="#111" stroke-width="0.35" textLength="70.9" lengthAdjust="spacingAndGlyphs">Clinical Stage</text>
<text transform="translate(360.6,597.5) rotate(-90)" font-size="10.4" font-weight="normal" text-anchor="start" fill="#111" stroke="#111" stroke-width="0.35" textLength="120.6" lengthAdjust="spacingAndGlyphs">CD3ζ–expressing Cells</text>
<line x1="361.20000000000005" y1="598.1999999999999" x2="361.20000000000005" y2="476.79999999999995" stroke="#111" stroke-width="0.9"/>
<text transform="translate(374.7,597.1) rotate(-90)" font-size="10.4" font-weight="normal" text-anchor="start" fill="#111" stroke="#111" stroke-width="0.35" textLength="116.8" lengthAdjust="spacingAndGlyphs">CD3ε-expressing Cells</text>
</svg></body></html>
